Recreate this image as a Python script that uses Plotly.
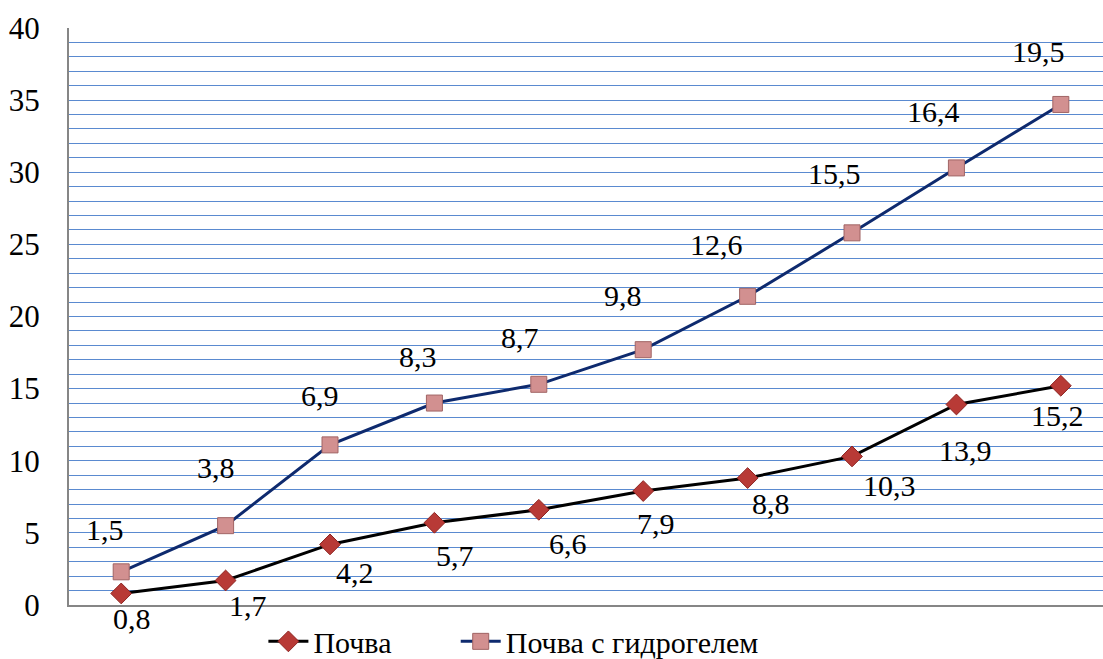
import plotly.graph_objects as go

categories = ["1", "2", "3", "4", "5", "6", "7", "8", "9", "10"]
soil = [0.8, 1.7, 4.2, 5.7, 6.6, 7.9, 8.8, 10.3, 13.9, 15.2]
soil_gel = [1.5, 3.8, 6.9, 8.3, 8.7, 9.8, 12.6, 15.5, 16.4, 19.5]
y_ticks = [0, 5, 10, 15, 20, 25, 30, 35, 40]
series_names = ["Почва", "Почва с гидрогелем"]

# label pixel nudges (style)
soil_lbl_dx = [11, 22, 25, 21, 29, 13, 23, 37, 9, -3]
soil_lbl_dy = [27, 27, 30, 35, 36, 34, 27, 31, 48, 32]
gel_lbl_dx = [-16, -10, -10, -16, -19, -20, -31, -18, -23, -22]
gel_lbl_dy = [-40, -56, -47, -45, -45, -52, -50, -57, -54, -51]

FONT = "Times New Roman"

def fmt(v):
    return f"{v:.1f}".replace(".", ",")

fig = go.Figure()
fig.add_trace(go.Scatter(
    x=categories, y=soil, name=series_names[0], mode="lines+markers",
    stackgroup="s", fill="none", legend="legend",
    line=dict(color="#000000", width=3),
    marker=dict(symbol="diamond", size=16, color="#B83A36",
                line=dict(color="#8E2522", width=1)),
))
fig.add_trace(go.Scatter(
    x=categories, y=soil_gel, name=series_names[1], mode="lines+markers",
    stackgroup="s", fill="none", legend="legend2",
    line=dict(color="#0E2A6E", width=3),
    marker=dict(symbol="square", size=16, color="#D29090",
                line=dict(color="#A06464", width=1)),
))

cum = [a + b for a, b in zip(soil, soil_gel)]
for i in range(len(categories)):
    fig.add_annotation(x=i, y=soil[i], text=fmt(soil[i]), showarrow=False,
                       xshift=soil_lbl_dx[i], yshift=-soil_lbl_dy[i] + 2,
                       font=dict(family=FONT, size=30, color="#000"))
    fig.add_annotation(x=i, y=cum[i], text=fmt(soil_gel[i]), showarrow=False,
                       xshift=gel_lbl_dx[i], yshift=-gel_lbl_dy[i] + 2,
                       font=dict(family=FONT, size=30, color="#000"))

legend_style = dict(orientation="h", xanchor="left", y=-0.063,
                    yanchor="middle", font=dict(family=FONT, size=30),
                    bgcolor="rgba(0,0,0,0)", itemwidth=40)

fig.update_layout(
    width=1103, height=659,
    margin=dict(l=69, r=0, t=28, b=54, autoexpand=False),
    paper_bgcolor="white", plot_bgcolor="white",
    font=dict(family=FONT, size=30, color="#000"),
    showlegend=True,
    legend=dict(x=0.188, **legend_style),
    legend2=dict(x=0.374, **legend_style),
    xaxis=dict(type="category", range=[-0.5, 9.404], showticklabels=False,
               showgrid=False, zeroline=False, showline=True, automargin=False,
               linecolor="#868686", linewidth=2, ticks=""),
    yaxis=dict(range=[0, 40], tickvals=y_ticks, showgrid=True, automargin=False,
               gridcolor="#5A8AD0", gridwidth=1.3, zeroline=False,
               showline=True, linecolor="#868686", linewidth=2, ticks="",
               ticklabelstandoff=21,
               tickfont=dict(family=FONT, size=31, color="#000"),
               minor=dict(dtick=1, showgrid=True, gridcolor="#5A8AD0",
                          gridwidth=1.3)),
)

fig.write_html("out.html", config={"displayModeBar": False},
               post_script="document.body.style.margin='0';document.body.style.overflow='hidden';")
